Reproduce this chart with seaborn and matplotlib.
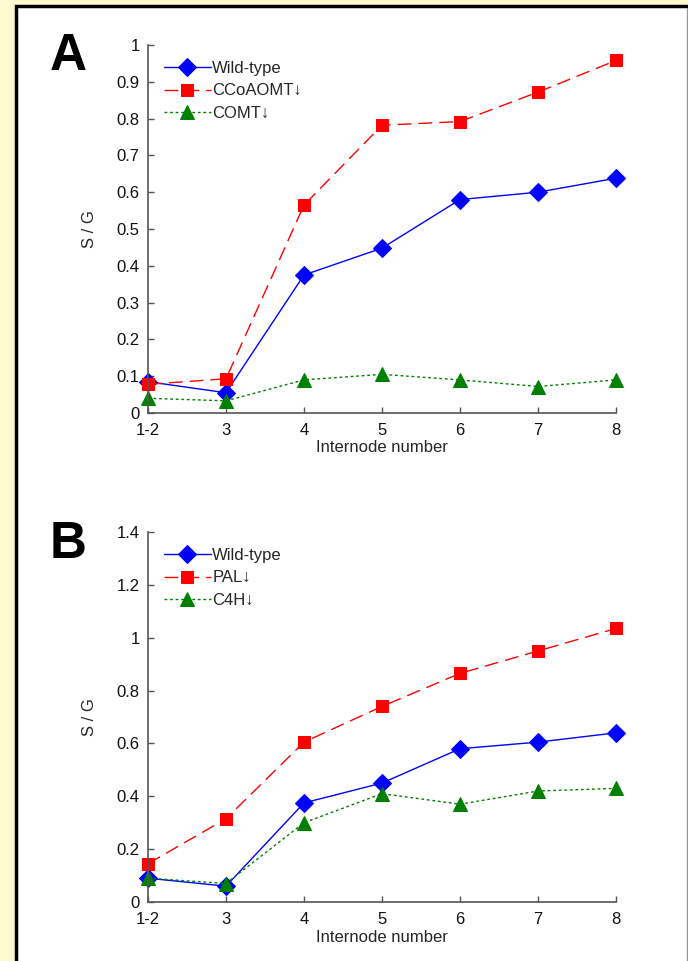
import numpy as np
import pandas as pd
import seaborn as sns
import matplotlib.pyplot as plt
from matplotlib.patches import Rectangle

internodes = ["1-2", "3", "4", "5", "6", "7", "8"]

# panel A
wt_a = [0.085, 0.055, 0.375, 0.448, 0.580, 0.600, 0.638]
ccoaomt = [0.078, 0.093, 0.565, 0.782, 0.792, 0.872, 0.958]
comt = [0.040, 0.033, 0.090, 0.105, 0.090, 0.072, 0.090]

# panel B
wt_b = [0.090, 0.060, 0.375, 0.450, 0.580, 0.605, 0.640]
pal = [0.145, 0.315, 0.605, 0.740, 0.865, 0.950, 1.035]
c4h = [0.090, 0.070, 0.300, 0.410, 0.370, 0.420, 0.430]

sns.set_style("ticks")
plt.rcParams['font.family'] = ['Liberation Sans', 'DejaVu Sans']

fig = plt.figure(figsize=(6.88, 9.61), dpi=100, facecolor='#FDFAD0')
# white panel with black frame
frame = Rectangle((16 / 688, -0.02), 1.2, 1 - 6 / 961 + 0.02,
                  transform=fig.transFigure, facecolor='white',
                  edgecolor='black', linewidth=2.5, zorder=-10)
fig.patches.append(frame)
fig.lines.append(plt.Line2D([686.5 / 688, 686.5 / 688], [0, 1 - 8 / 961],
                            transform=fig.transFigure, color='#999999', lw=1,
                            zorder=-5))

styles = {
    'Wild-type': dict(color='#0000FF', marker='D', ls='-', ms=9),
    'red': dict(color='#FF0000', marker='s', ls=(0, (10, 5)), ms=8.5),
    'green': dict(color='#008000', marker='^', ls=(0, (2, 2)), ms=10),
}


def panel(ax, series, names, ymax, yticks, yfmt):
    x = np.arange(len(internodes))
    df = pd.DataFrame({'pos': np.tile(x, 3),
                       'val': np.concatenate(series),
                       'line': np.repeat(names, len(x))})
    keys = ['Wild-type', 'red', 'green']
    for name, key in zip(names, keys):
        st = styles[key]
        sns.lineplot(data=df[df['line'] == name], x='pos', y='val', ax=ax,
                     color=st['color'], marker=st['marker'], markersize=st['ms'],
                     markeredgecolor=st['color'], linestyle=st['ls'], lw=1,
                     label=name, alpha=1, clip_on=False)
    ax.set_xlim(0, 6)
    ax.set_ylim(0, ymax)
    ax.set_xticks(x)
    ax.set_xticklabels(internodes)
    ax.set_yticks(yticks)
    ax.set_yticklabels([yfmt(v) for v in yticks])
    ax.tick_params(direction='in', length=4, width=1, colors='#555555',
                   labelcolor='#111111', labelsize=12)
    ax.tick_params(axis='x', pad=7)
    ax.tick_params(axis='y', pad=6)
    for s in ['top', 'right']:
        ax.spines[s].set_visible(False)
    for s in ['left', 'bottom']:
        ax.spines[s].set_color('#555555')
        ax.spines[s].set_linewidth(1.2)
    ax.set_xlabel('Internode number', fontsize=12, labelpad=2)
    ax.set_ylabel('S / G', fontsize=12, labelpad=14)
    leg = ax.legend(loc='upper left', frameon=False, fontsize=12,
                    bbox_to_anchor=(0.02, 0.975), handlelength=2.8,
                    handletextpad=0.1, labelspacing=0.45, borderaxespad=0)
    for ln in leg.get_lines():
        ln.set_linewidth(1)


ax_a = fig.add_axes([148 / 688, 1 - 413 / 961, 468 / 688, 368 / 961])
ax_a.set_facecolor('none')
panel(ax_a, [wt_a, ccoaomt, comt], ['Wild-type', 'CCoAOMT\u2193', 'COMT\u2193'],
      1.0, np.round(np.arange(0, 1.01, 0.1), 1),
      lambda v: '0' if v == 0 else ('1' if v == 1 else f'{v:.1f}'))

ax_b = fig.add_axes([148 / 688, 1 - 902 / 961, 468 / 688, 370 / 961])
ax_b.set_facecolor('none')
panel(ax_b, [wt_b, pal, c4h], ['Wild-type', 'PAL\u2193', 'C4H\u2193'],
      1.4, np.round(np.arange(0, 1.41, 0.2), 1),
      lambda v: '0' if v == 0 else ('1' if v == 1 else f'{v:g}'))

fig.text(50 / 688, 1 - 70 / 961, 'A', fontsize=37, fontweight='bold', color='black')
fig.text(50 / 688, 1 - 558 / 961, 'B', fontsize=37, fontweight='bold', color='black')

fig.savefig('out.png', dpi=100, facecolor=fig.get_facecolor())
